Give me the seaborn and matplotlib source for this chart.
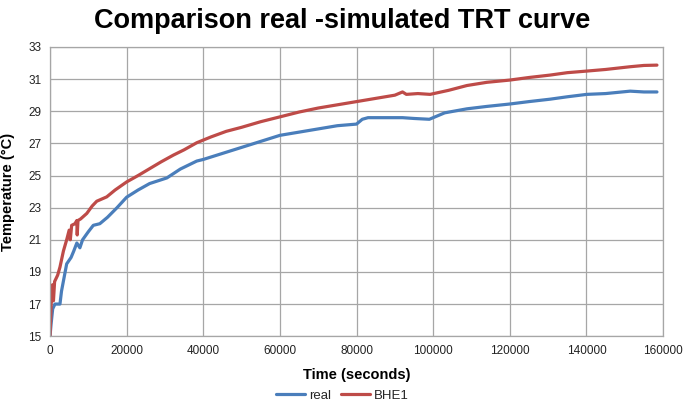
import pandas as pd
import seaborn as sns
import matplotlib.pyplot as plt

# ----------------------------- DATA --------------------------------------------------------------------

real_time = [0, 300, 700, 1300, 2600, 3000, 4350, 5500, 6200, 7000, 7800, 8500, 10000, 11300,
             13000, 15000, 17500, 20000, 23000, 26000, 30500, 34000, 38300, 40000, 44000, 48000,
             52000, 56000, 60000, 65000, 70000, 75000, 80000, 81500, 83000, 88000, 92000, 95000,
             99000, 103000, 108800, 114000, 120000, 125000, 130500, 135000, 140100, 145000,
             151400, 155000, 158400]
real_temp = [15.0, 15.8, 16.7, 17.0, 17.0, 17.8, 19.5, 19.9, 20.3, 20.8, 20.5, 21.0, 21.5, 21.9,
             22.0, 22.4, 23.0, 23.65, 24.1, 24.5, 24.85, 25.4, 25.9, 26.0, 26.3, 26.6,
             26.9, 27.2, 27.5, 27.7, 27.9, 28.1, 28.2, 28.5, 28.6, 28.6, 28.6, 28.55,
             28.5, 28.9, 29.15, 29.3, 29.45, 29.6, 29.75, 29.9, 30.05, 30.1,
             30.25, 30.2, 30.2]

bhe_time = [0, 300, 650, 900, 1200, 2000, 2600, 3500, 4350, 5000, 5300, 5650, 6500, 7000, 7100,
            7300, 8000, 9600, 11000, 12200, 14800, 17000, 20000, 23000, 26100, 29000, 32200,
            35000, 38300, 42000, 46000, 50000, 55000, 60000, 65000, 70000, 75000, 80000, 85000,
            90000, 92000, 93000, 96000, 99200, 104000, 108800, 114000, 120000, 125000, 130500,
            135000, 140100, 145000, 151400, 155000, 158400]
bhe_temp = [15.0, 17.0, 18.2, 17.2, 18.4, 18.8, 19.3, 20.3, 21.0, 21.6, 21.0, 21.9, 22.0, 22.2, 21.3,
            22.2, 22.3, 22.64, 23.1, 23.4, 23.67, 24.1, 24.6, 25.0, 25.44, 25.85, 26.27,
            26.6, 27.04, 27.4, 27.75, 28.0, 28.35, 28.65, 28.95, 29.2, 29.4, 29.6, 29.8,
            30.0, 30.2, 30.05, 30.1, 30.05, 30.3, 30.6, 30.8, 30.94, 31.1, 31.25,
            31.4, 31.5, 31.6, 31.77, 31.85, 31.87]

series_names = ["real", "BHE1"]
series_colors = ["#4a7ebb", "#be4b48"]

x_ticks = list(range(0, 160001, 20000))
y_ticks = list(range(15, 34, 2))

df = pd.concat([
    pd.DataFrame({"time": real_time, "temp": real_temp, "series": "real"}),
    pd.DataFrame({"time": bhe_time, "temp": bhe_temp, "series": "BHE1"}),
])

# ----------------------------- PLOT --------------------------------------------------------------------

sns.set_style("white")
plt.rcParams["font.family"] = ["Liberation Sans", "DejaVu Sans"]

fig = plt.figure(figsize=(6.85, 4.12), dpi=100)
ax = fig.add_axes([0.073, 0.184, 0.895, 0.702])

sns.lineplot(data=df, x="time", y="temp", hue="series", hue_order=series_names,
             palette=series_colors, linewidth=2.3, estimator=None, sort=False, ax=ax,
             legend=False)

ax.set_xlim(0, 160000)
ax.set_ylim(15, 33)
ax.set_xticks(x_ticks)
ax.set_yticks(y_ticks)
ax.tick_params(axis="both", labelsize=8.5, colors="#222222", length=0, pad=6)
ax.grid(True, color="#a6a6a6", linewidth=0.9)
ax.set_axisbelow(True)
for s in ax.spines.values():
    s.set_color("#a6a6a6")
    s.set_linewidth(0.9)

ax.set_xlabel("Time (seconds)", fontsize=10.5, fontweight="bold", labelpad=8, color="black")
ax.set_ylabel("Temperature (°C)", fontsize=10.5, fontweight="bold", labelpad=10, color="black")
fig.suptitle("Comparison real -simulated TRT curve", fontsize=19.5, fontweight="bold",
             y=0.98, color="black")

handles = [plt.Line2D([], [], color=c, lw=2.3) for c in series_colors]
fig.legend(handles, series_names, loc="center", bbox_to_anchor=(0.5, 0.04), ncol=2,
           frameon=False, fontsize=9.5, handlelength=2.2, handletextpad=0.3, columnspacing=0.8)

fig.savefig("out.png", dpi=100)
